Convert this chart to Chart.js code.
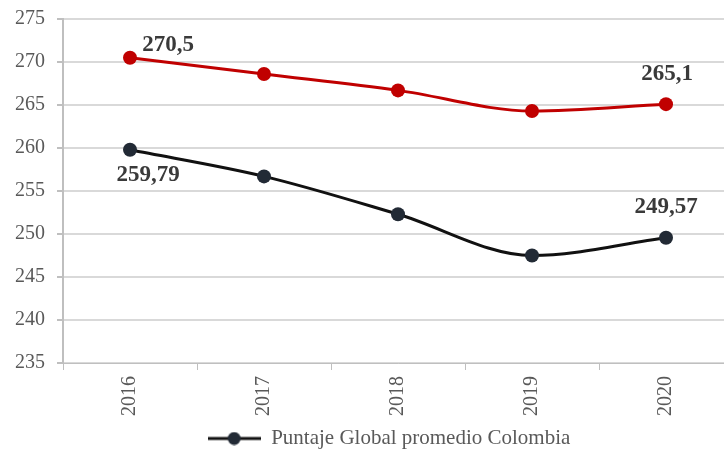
<!DOCTYPE html>
<html>
<head>
<meta charset="utf-8">
<script src="https://cdn.jsdelivr.net/npm/chart.js@4.4.1/dist/chart.umd.min.js"></script>
<style>
  html, body { margin: 0; padding: 0; background: #fff; overflow: hidden; }
  canvas { display: block; }
</style>
</head>
<body>
<canvas id="chart" width="740" height="456"></canvas>
<script>
// datos
const years = ['2016', '2017', '2018', '2019', '2020'];
const puntajeRojo = [270.5, 268.6, 266.7, 264.3, 265.1];
const puntajeColombia = [259.79, 256.7, 252.3, 247.5, 249.57];
const etiquetaColombia = 'Puntaje Global promedio Colombia';

const serif = '"Liberation Serif", "Times New Roman", serif';

// icono de la leyenda: línea con punto
function legendIcon() {
    const c = document.createElement('canvas');
    c.width = 53; c.height = 14;
    const g = c.getContext('2d');
    g.strokeStyle = '#111111';
    g.lineWidth = 3;
    g.beginPath();
    g.moveTo(0, 7); g.lineTo(53, 7);
    g.stroke();
    g.fillStyle = '#222a35';
    g.beginPath();
    g.arc(26.5, 7, 6.5, 0, Math.PI * 2);
    g.fill();
    return c;
}

// etiquetas de valor en el primer y último punto
const valueLabels = {
    id: 'valueLabels',
    afterDatasetsDraw(chart) {
        const ctx = chart.ctx;
        ctx.save();
        ctx.font = 'bold 23px ' + serif;
        ctx.fillStyle = '#3a3a3a';
        ctx.textBaseline = 'middle';
        ctx.textAlign = 'center';
        const fmt = v => String(v).replace('.', ',');
        const place = [
            // [dataset, index, dx, dy]
            [0, 0, 38, -13],
            [0, 4, 1, -30],
            [1, 0, 18, 25],
            [1, 4, 0, -31]
        ];
        place.forEach(([d, i, dx, dy]) => {
            const pt = chart.getDatasetMeta(d).data[i];
            const v = chart.data.datasets[d].data[i];
            ctx.fillText(fmt(v), pt.x + dx, pt.y + dy);
        });
        ctx.restore();
    }
};

// mover la leyenda un poco a la derecha, como en el original
const legendShift = {
    id: 'legendShift',
    afterLayout(chart) {
        if (chart.legend) chart.legend.left += 35;
    }
};

new Chart(document.getElementById('chart'), {
    type: 'line',
    data: {
        labels: years,
        datasets: [{
            label: 'Puntaje Global promedio',
            data: puntajeRojo,
            borderColor: '#c00000',
            backgroundColor: '#c00000',
            borderWidth: 3,
            pointRadius: 7,
            pointHoverRadius: 7,
            pointBorderWidth: 0,
            cubicInterpolationMode: 'monotone'
        }, {
            label: etiquetaColombia,
            data: puntajeColombia,
            borderColor: '#111111',
            backgroundColor: '#222a35',
            borderWidth: 3,
            pointRadius: 7,
            pointHoverRadius: 7,
            pointBorderWidth: 0,
            cubicInterpolationMode: 'monotone'
        }]
    },
    options: {
        responsive: false,
        animation: false,
        layout: { padding: { top: 19, left: 3, right: 0, bottom: -3 } },
        plugins: {
            tooltip: { enabled: false },
            legend: {
                position: 'bottom',
                labels: {
                    usePointStyle: true,
                    pointStyleWidth: 53,
                    generateLabels(chart) {
                        const ds = chart.data.datasets[1];
                        return [{
                            text: ds.label,
                            datasetIndex: 1,
                            pointStyle: legendIcon(),
                            fontColor: '#595959',
                            lineWidth: 0,
                            strokeStyle: 'transparent',
                            fillStyle: 'transparent'
                        }];
                    },
                    color: '#595959',
                    font: { family: serif, size: 21 },
                    padding: 6
                }
            }
        },
        scales: {
            x: {
                offset: true,
                afterFit(s) { s.paddingLeft = 0; s.paddingRight = 0; },
                grid: {
                    display: true,
                    drawOnChartArea: false,
                    offset: true,
                    color: '#bfbfbf',
                    tickLength: 7
                },
                border: { color: '#bfbfbf', width: 1 },
                ticks: {
                    color: '#595959',
                    font: { family: serif, size: 20 },
                    minRotation: 90,
                    maxRotation: 90,
                    padding: 6
                }
            },
            y: {
                min: 235,
                max: 275,
                afterFit(s) { s.paddingTop = 0; s.paddingBottom = 0; },
                ticks: {
                    stepSize: 5,
                    color: '#595959',
                    font: { family: serif, size: 20 },
                    padding: 12
                },
                grid: {
                    color: '#d9d9d9',
                    lineWidth: 2,
                    tickLength: 6,
                    tickColor: '#bfbfbf'
                },
                border: { color: '#bfbfbf', width: 2 }
            }
        }
    },
    plugins: [valueLabels, legendShift]
});
</script>
</body>
</html>
